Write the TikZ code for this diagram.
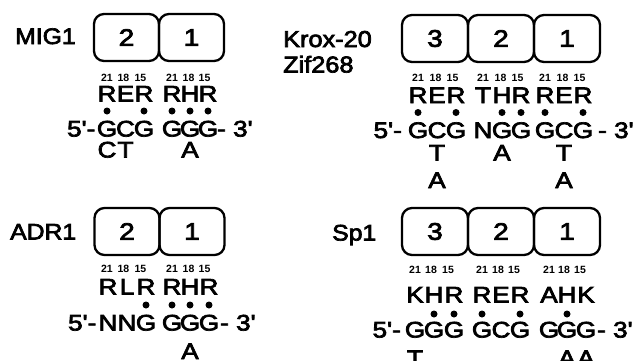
\documentclass[tikz,border=0pt]{standalone}
\usepackage{graphicx}
\usepackage{fontspec}
\setmainfont{Liberation Sans}
% slightly heavy sans for the figure lettering
\newfontfamily\figfont{Liberation Sans}[FakeBold=3]
\newcommand{\pr}{\textquotesingle}
% lettering in the figure is set wider than the font's own shapes
\newcommand{\wide}[1]{\scalebox{1.16}[1]{#1}}
\newcommand{\namew}[1]{\scalebox{1.1}[1]{#1}}
\tikzset{
  x=1pt, y=-1pt,
  res/.style={inner sep=0pt, anchor=base, font=\figfont\fontsize{22.5}{22.5}\selectfont},
  posnum/.style={inner sep=0pt, anchor=base, font=\bfseries\fontsize{10.5}{10.5}\selectfont},
  finger/.style={draw, line width=2.3pt, rounded corners=10pt, minimum height=47pt,
    inner sep=0pt, font=\figfont\fontsize{24}{24}\selectfont},
  contact/.style={circle, fill, inner sep=0pt, minimum size=7pt},
  protname/.style={inner sep=0pt, anchor=base west, font=\figfont\fontsize{22.5}{22.5}\selectfont},
  endL/.style={inner sep=0pt, anchor=base east, font=\figfont\fontsize{22.5}{22.5}\selectfont},
  endR/.style={inner sep=0pt, anchor=base west, font=\figfont\fontsize{22.5}{22.5}\selectfont},
}
\begin{document}
\begin{tikzpicture}
\useasboundingbox (0,0) rectangle (640,360);

% ---------------- MIG1 ----------------
\node[protname] (m-name) at (15,44) {\namew{MIG1}};
\node[finger, minimum width=65pt] (m-f2) at (126.5,37.5) {\wide{2}};
\node[finger, minimum width=65pt] (m-f1) at (191.5,37.5) {\wide{1}};
\foreach \cx/\t [count=\i] in {107/21,123.5/18,140.5/15,172/21,188.5/18,204.5/15}
  \node[posnum] (m-pos-\i) at (\cx,81) {\t};
\foreach \cx/\t [count=\i] in {107/R,125.5/E,144/R,172/R,190/H,208/R}
  \node[res] (m-aa-\i) at (\cx,101.5) {\wide{\t}};
\foreach \cx [count=\i] in {107,144,172,190,208}
  \node[contact] (m-dot-\i) at (\cx,111) {};
\foreach \cx/\t [count=\i] in {107/G,125.5/C,144/G,172/G,190/G,208/G}
  \node[res] (m-dna-\i) at (\cx,136.5) {\wide{\t}};
\node[endL] (m-5) at (95.5,136.5) {\wide{5\pr-}};
\node[endR] (m-3) at (217,136.5) {\wide{- 3\pr}};
\foreach \cx/\t [count=\i] in {107/C,125.5/T,190/A}
  \node[res] (m-alt-\i) at (\cx,157.5) {\wide{\t}};

% ---------------- Krox-20 / Zif268 ----------------
\node[protname, font=\figfont\fontsize{23}{23}\selectfont] (k-name) at (283,47) {\namew{Krox-20}};
\node[protname, font=\figfont\fontsize{23}{23}\selectfont] (z-name) at (283,72.5) {\namew{Zif268}};
\node[finger, minimum width=66pt] (k-f3) at (435,38.5) {\wide{3}};
\node[finger, minimum width=66pt] (k-f2) at (501,38.5) {\wide{2}};
\node[finger, minimum width=66pt] (k-f1) at (567,38.5) {\wide{1}};
\foreach \cx/\t [count=\i] in {418/21,435.5/18,452.5/15,483/21,500.5/18,517.5/15,545/21,562.5/18,579.5/15}
  \node[posnum] (k-pos-\i) at (\cx,81) {\t};
\foreach \cx/\t [count=\i] in {418/R,437/E,456/R,483/T,502/H,521/R,545/R,564/E,583/R}
  \node[res] (k-aa-\i) at (\cx,103) {\wide{\t}};
\foreach \cx [count=\i] in {418,456,502,521,545,583}
  \node[contact] (k-dot-\i) at (\cx,112.5) {};
\foreach \cx/\t [count=\i] in {418/G,437/C,456/G,483/N,502/G,521/G,545/G,564/C,583/G}
  \node[res] (k-dna-\i) at (\cx,138) {\wide{\t}};
\node[endL] (k-5) at (402,138) {\wide{5\pr-}};
\node[endR] (k-3) at (598,138) {\wide{- 3\pr}};
\foreach \cx/\t [count=\i] in {437/T,502/A,564/T}
  \node[res] (k-alt-\i) at (\cx,160.5) {\wide{\t}};
\foreach \cx/\t [count=\i] in {437/A,564/A}
  \node[res] (k-alt2-\i) at (\cx,188) {\wide{\t}};

% ---------------- ADR1 ----------------
\node[protname] (a-name) at (10,239.5) {\namew{ADR1}};
\node[finger, minimum width=65pt] (a-f2) at (127,231.5) {\wide{2}};
\node[finger, minimum width=65pt] (a-f1) at (192,231.5) {\wide{1}};
\foreach \cx/\t [count=\i] in {107/21,123.5/18,140.5/15,172/21,188.5/18,204.5/15}
  \node[posnum] (a-pos-\i) at (\cx,272.5) {\t};
\foreach \cx/\t [count=\i] in {108/R,127/L,146/R,172/R,190/H,209/R}
  \node[res] (a-aa-\i) at (\cx,294.5) {\wide{\t}};
\foreach \cx [count=\i] in {146,172,190,209}
  \node[contact] (a-dot-\i) at (\cx,305) {};
\foreach \cx/\t [count=\i] in {108/N,127/N,146/G,172/G,190/G,209/G}
  \node[res] (a-dna-\i) at (\cx,330.5) {\wide{\t}};
\node[endL] (a-5) at (96.5,330.5) {\wide{5\pr-}};
\node[endR] (a-3) at (220,330.5) {\wide{- 3\pr}};
\node[res] (a-alt-1) at (190,359) {\wide{A}};

% ---------------- Sp1 ----------------
\node[protname] (s-name) at (332,240.5) {\namew{Sp1}};
\node[finger, minimum width=66pt] (s-f3) at (435,231.5) {\wide{3}};
\node[finger, minimum width=66pt] (s-f2) at (501,231.5) {\wide{2}};
\node[finger, minimum width=66pt] (s-f1) at (567,231.5) {\wide{1}};
\foreach \cx/\t [count=\i] in {415/21,431/18,448/15,482/21,498/18,514/15,549/21,564/18,580/15}
  \node[posnum] (s-pos-\i) at (\cx,273.5) {\t};
\foreach \cx/\t [count=\i] in {415/K,434/H,454/R,482/R,501/E,520/R,549/A,567/H,586/K}
  \node[res] (s-aa-\i) at (\cx,302.5) {\wide{\t}};
\foreach \cx [count=\i] in {434,454,482,520,567}
  \node[contact] (s-dot-\i) at (\cx,314) {};
\foreach \cx/\t [count=\i] in {415/G,434/G,454/G,482/G,501/C,520/G,549/G,567/G,586/G}
  \node[res] (s-dna-\i) at (\cx,337.5) {\wide{\t}};
\node[endL] (s-5) at (401,337.5) {\wide{5\pr-}};
\node[endR] (s-3) at (597,337.5) {\wide{- 3\pr}};
\foreach \cx/\t [count=\i] in {415/T,567/A,586/A}
  \node[res] (s-alt-\i) at (\cx,366) {\wide{\t}};
\end{tikzpicture}
\end{document}
